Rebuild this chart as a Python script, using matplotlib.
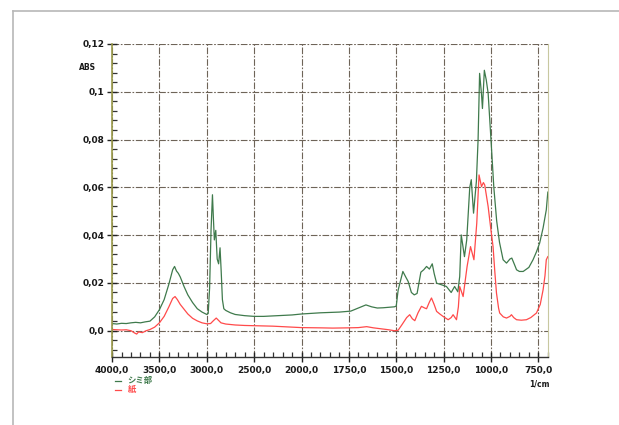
import numpy as np
import matplotlib
matplotlib.use("Agg")
from matplotlib import pyplot as plt
from matplotlib.ticker import FixedLocator, FixedFormatter
from matplotlib.lines import Line2D

# wavenumber (1/cm) and absorbance
wn_stain = [4000, 3950, 3900, 3850, 3800, 3750, 3700, 3650, 3600, 3550, 3500, 3450, 3400,
            3360, 3340, 3320, 3300, 3280, 3240, 3200, 3150, 3100, 3050, 3000, 2985, 2970,
            2955, 2940, 2930, 2920, 2905, 2890, 2875, 2860, 2848, 2835, 2820, 2800, 2750,
            2700, 2600, 2500, 2400, 2300, 2200, 2100, 2000, 1900, 1800, 1740, 1700, 1660,
            1630, 1600, 1570, 1540, 1510, 1500, 1490, 1465, 1450, 1437, 1420, 1405, 1390,
            1370, 1355, 1340, 1325, 1310, 1300, 1287, 1260, 1235, 1210, 1192, 1175, 1165,
            1157, 1140, 1128, 1112, 1104, 1092, 1077, 1068, 1060, 1050, 1045, 1035, 1025,
            1015, 1000, 985, 970, 955, 936, 918, 900, 890, 875, 865, 850, 830, 800, 778,
            760, 743, 725, 708, 700]
abs_stain = [0.0030, 0.0028, 0.0031, 0.0030, 0.0033, 0.0035, 0.0033, 0.0037, 0.0040, 0.0058,
             0.0088, 0.0130, 0.0195, 0.0255, 0.0269, 0.0250, 0.0240, 0.0225, 0.0185, 0.0150,
             0.0118, 0.0092, 0.0078, 0.0068, 0.0072, 0.0180, 0.0420, 0.0569, 0.0470, 0.0380,
             0.0420, 0.0300, 0.0280, 0.0347, 0.0250, 0.0130, 0.0092, 0.0085, 0.0075, 0.0068,
             0.0063, 0.0060, 0.0060, 0.0062, 0.0064, 0.0066, 0.0070, 0.0075, 0.0078, 0.0082,
             0.0095, 0.0108, 0.0100, 0.0095, 0.0096, 0.0098, 0.0100, 0.0103, 0.0170, 0.0248,
             0.0225, 0.0206, 0.0160, 0.0150, 0.0156, 0.0245, 0.0255, 0.0269, 0.0258, 0.0280,
             0.0240, 0.0199, 0.0192, 0.0185, 0.0160, 0.0185, 0.0163, 0.0227, 0.0401, 0.0310,
             0.0380, 0.0600, 0.0632, 0.0492, 0.0625, 0.0800, 0.1077, 0.0990, 0.0930, 0.1090,
             0.1050, 0.0994, 0.0800, 0.0600, 0.0460, 0.0370, 0.0297, 0.0283, 0.0300, 0.0304,
             0.0275, 0.0255, 0.0248, 0.0248, 0.0265, 0.0297, 0.0330, 0.0367, 0.0430, 0.0506,
             0.0580]

wn_paper = [4000, 3950, 3900, 3850, 3800, 3760, 3740, 3720, 3680, 3640, 3600, 3550, 3500,
            3450, 3400, 3360, 3335, 3310, 3280, 3240, 3200, 3150, 3100, 3050, 3000, 2960,
            2930, 2900, 2880, 2850, 2800, 2700, 2600, 2500, 2400, 2300, 2200, 2100, 2000,
            1900, 1835, 1750, 1700, 1656, 1620, 1580, 1540, 1510, 1490, 1470, 1445, 1429,
            1415, 1402, 1385, 1367, 1350, 1340, 1325, 1314, 1300, 1287, 1270, 1253, 1226,
            1210, 1200, 1182, 1172, 1165, 1147, 1126, 1108, 1090, 1075, 1063, 1050, 1040,
            1033, 1015, 1000, 989, 980, 971, 960, 954, 935, 918, 900, 892, 880, 865, 840,
            813, 790, 760, 740, 725, 715, 708, 700]
abs_paper = [0.0005, 0.0004, 0.0003, 0.0004, 0.0000, -0.0010, -0.0014, -0.0005, -0.0008,
             0.0000, 0.0005, 0.0015, 0.0033, 0.0060, 0.0100, 0.0135, 0.0143, 0.0130, 0.0110,
             0.0090, 0.0070, 0.0052, 0.0041, 0.0033, 0.0029, 0.0030, 0.0042, 0.0053, 0.0045,
             0.0033, 0.0028, 0.0024, 0.0022, 0.0021, 0.0020, 0.0019, 0.0017, 0.0015, 0.0013,
             0.0012, 0.0011, 0.0012, 0.0013, 0.0017, 0.0012, 0.0008, 0.0004, 0.0000, 0.0002,
             0.0025, 0.0055, 0.0067, 0.0050, 0.0042, 0.0075, 0.0102, 0.0095, 0.0092, 0.0120,
             0.0137, 0.0110, 0.0081, 0.0070, 0.0060, 0.0046, 0.0055, 0.0067, 0.0046, 0.0100,
             0.0185, 0.0143, 0.0269, 0.0352, 0.0297, 0.0450, 0.0652, 0.0603, 0.0620, 0.0610,
             0.0520, 0.0420, 0.0352, 0.0250, 0.0158, 0.0095, 0.0074, 0.0058, 0.0053, 0.0060,
             0.0067, 0.0055, 0.0046, 0.0044, 0.0046, 0.0055, 0.0074, 0.0110, 0.0171, 0.0230,
             0.0297, 0.0310]

x_major = [4000, 3500, 3000, 2500, 2000, 1750, 1500, 1250, 1000, 750]
x_labels = ["4000,0", "3500,0", "3000,0", "2500,0", "2000,0", "1750,0",
            "1500,0", "1250,0", "1000,0", "750,0"]
y_major = [0.0, 0.02, 0.04, 0.06, 0.08, 0.10, 0.12]
y_labels = ["0,0", "0,02", "0,04", "0,06", "0,08", "0,1", "0,12"]

GREEN = "#3f7a4c"
RED = "#ff4a4a"
GRID = "#6e6458"


# spectrometer axis: 4000-2000 compressed to half the scale of 2000-700
def fwd(w):
    w = np.asarray(w, dtype=float)
    return np.where(w >= 2000, w / 500.0, 4 + (w - 2000) / 250.0)


def inv(p):
    p = np.asarray(p, dtype=float)
    return np.where(p >= 4, p * 500.0, 2000 + (p - 4) * 250.0)


fig = plt.figure(figsize=(6.19, 4.25), dpi=100)
ax = fig.add_axes([0.181, 0.16, 0.704, 0.7365])
ax.set_xscale("function", functions=(fwd, inv))

ax.plot(wn_stain, abs_stain, color=GREEN, lw=0.9)
ax.plot(wn_paper, abs_paper, color=RED, lw=0.9)

ax.set_xlim(4000, 700)
ax.set_ylim(-0.011, 0.12)

ax.xaxis.set_major_locator(FixedLocator(x_major))
ax.xaxis.set_major_formatter(FixedFormatter(x_labels))
x_minor = list(range(4000, 2000, -100)) + list(range(2000, 699, -50))
ax.xaxis.set_minor_locator(FixedLocator(x_minor))
ax.yaxis.set_major_locator(FixedLocator(y_major))
ax.yaxis.set_major_formatter(FixedFormatter(y_labels))
ax.yaxis.set_minor_locator(FixedLocator(np.arange(-0.008, 0.121, 0.004)))

ax.tick_params(which="major", direction="inout", length=7, width=1.0, color="#222222",
               labelsize=6.5, pad=2)
ax.tick_params(which="minor", direction="in", length=3.5, width=0.9, color="#333333")
ax.tick_params(axis="x", which="major", pad=3)
for lab in ax.get_xticklabels() + ax.get_yticklabels():
    lab.set_fontweight("bold")
    lab.set_color("#1a1a1a")

ax.grid(True, which="major", color=GRID, lw=0.8, ls=(0, (6, 1.5, 1.5, 1.5)))
ax.spines["left"].set_color("#9a9a4a")
ax.spines["left"].set_linewidth(1.2)
ax.spines["right"].set_color("#c8c8a0")
ax.spines["bottom"].set_color("#333333")
ax.spines["bottom"].set_linewidth(1.0)
ax.spines["top"].set_visible(False)

fig.text(0.142, 0.842, "ABS", fontsize=5.5, fontweight="bold", ha="center", va="center",
         color="#1a1a1a")
fig.text(0.871, 0.097, "1/cm", fontsize=5.5, fontweight="bold", ha="center", va="center",
         color="#1a1a1a")

# legend under the axis
cjk = ["Noto Sans CJK JP", "DejaVu Sans"]
fig.add_artist(Line2D([0.186, 0.196], [0.104, 0.104], color=GREEN, lw=0.9))
fig.text(0.205, 0.104, "シミ部", fontsize=6, color=GREEN, family=cjk, fontweight="bold",
         va="center")
fig.add_artist(Line2D([0.186, 0.196], [0.083, 0.083], color=RED, lw=0.9))
fig.text(0.207, 0.083, "紙", fontsize=6, color=RED, family=cjk, fontweight="bold",
         va="center")

# scanned page border
fig.add_artist(Line2D([0.021, 1.0], [0.974, 0.974], color="#b8b8b8", lw=1.2))
fig.add_artist(Line2D([0.021, 0.021], [0.0, 0.974], color="#b8b8b8", lw=1.2))

fig.savefig("out.png", dpi=100)
